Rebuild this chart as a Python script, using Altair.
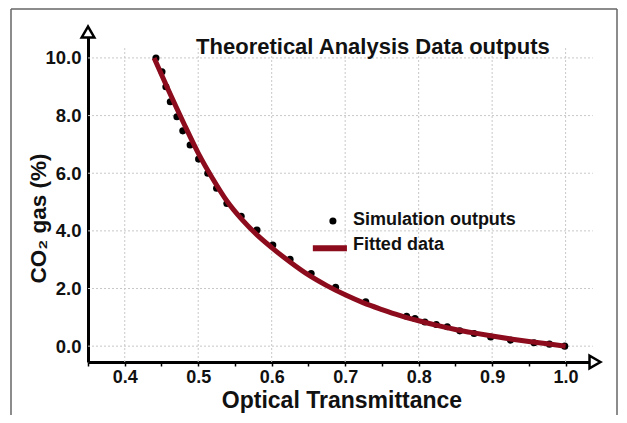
import altair as alt
import pandas as pd

# ---- data ----
sim_x = [0.4425, 0.4507, 0.456, 0.462, 0.471, 0.479, 0.489, 0.5005, 0.513, 0.525,
         0.539, 0.5585, 0.58, 0.6015, 0.625, 0.6537, 0.687, 0.728, 0.7836, 0.795,
         0.8085, 0.824, 0.839, 0.856, 0.8755, 0.898, 0.925, 0.957, 0.978, 0.9988]
sim_y = [10.0, 9.52, 9.0, 8.48, 7.96, 7.47, 6.98, 6.49, 6.0, 5.48,
         4.95, 4.51, 4.03, 3.51, 3.01, 2.52, 2.04, 1.54, 1.04, 0.96,
         0.84, 0.75, 0.67, 0.53, 0.44, 0.32, 0.21, 0.12, 0.07, 0.0]

fit_x = [0.44, 0.46, 0.48, 0.50, 0.52, 0.54, 0.56, 0.58, 0.60, 0.625, 0.65, 0.675,
         0.70, 0.725, 0.75, 0.775, 0.80, 0.825, 0.85, 0.875, 0.90, 0.925, 0.95, 0.975, 1.00]
fit_y = [10.0, 8.85, 7.75, 6.7, 5.8, 5.0, 4.38, 3.86, 3.42, 2.92, 2.47, 2.1,
         1.78, 1.5, 1.27, 1.06, 0.88, 0.72, 0.58, 0.46, 0.35, 0.25, 0.16, 0.08, 0.0]

x_ticks = [0.35, 0.40, 0.45, 0.50, 0.55, 0.60, 0.65, 0.70, 0.75, 0.80, 0.85, 0.90, 0.95, 1.00]
x_grid = [0.4, 0.5, 0.6, 0.7, 0.8, 0.9, 1.0]
y_ticks = [0, 2, 4, 6, 8, 10]

title_text = "Theoretical Analysis Data outputs"
x_title = "Optical Transmittance"
y_title = "CO\u2082 gas (%)"
legend_labels = ["Simulation outputs", "Fitted data"]

FONT = "Liberation Sans"
RED = "#8c0b1c"
INK = "#111111"

x_min, x_max = 0.35, 1.04
y_min, y_max = -0.55, 10.9

xs = alt.Scale(domain=[x_min, x_max], nice=False, zero=False)
ys = alt.Scale(domain=[y_min, y_max], nice=False, zero=False)

x_axis = alt.Axis(
    values=x_ticks,
    labelExpr="abs(datum.value*10 - round(datum.value*10)) < 0.01 ? format(datum.value, '.1f') : ''",
    labelFont=FONT, labelFontSize=18, labelFontWeight="bold", labelColor=INK,
    labelPadding=2, labelFlush=False, labelOverlap=False,
    domainColor="black", domainWidth=3, tickColor="black", tickSize=4, tickWidth=1.5,
    grid=False, title=x_title, titleFont=FONT, titleFontSize=23, titleFontWeight="bold",
    titleColor=INK, titlePadding=3,
)
y_axis = alt.Axis(
    values=y_ticks, format=".1f",
    labelFont=FONT, labelFontSize=18.5, labelFontWeight="bold", labelColor=INK,
    labelPadding=7, ticks=False, labelFlush=False, labelOverlap=False,
    domainColor="black", domainWidth=3, grid=False,
    title=y_title, titleFont=FONT, titleFontSize=22.5, titleFontWeight="bold",
    titleColor=INK, titleX=-50, titleY=186, titleAngle=270,
    titleAlign="center", titleBaseline="middle",
)

X = lambda f: alt.X(f, type="quantitative", scale=xs, axis=x_axis)
Y = lambda f: alt.Y(f, type="quantitative", scale=ys, axis=y_axis)

df_sim = pd.DataFrame({"x": sim_x, "y": sim_y})
df_fit = pd.DataFrame({"x": fit_x, "y": fit_y})
df_xg = pd.DataFrame({"x": x_grid, "y": [y_min] * len(x_grid), "y2": [10.34] * len(x_grid)})
df_yg = pd.DataFrame({"y": y_ticks, "x": [x_min] * len(y_ticks), "x2": [1.037] * len(y_ticks)})

grid_style = dict(color="#c8c8c8", strokeWidth=1, strokeDash=[2, 2])

xgrid = alt.Chart(df_xg).mark_rule(**grid_style).encode(x=X("x"), y=Y("y"), y2="y2")
ygrid = alt.Chart(df_yg).mark_rule(**grid_style).encode(y=Y("y"), x=X("x"), x2="x2")

points = alt.Chart(df_sim).mark_circle(color="black", opacity=1, size=50).encode(x=X("x"), y=Y("y"))
line = alt.Chart(df_fit).mark_line(color=RED, strokeWidth=5, interpolate="monotone").encode(x=X("x"), y=Y("y"))

# legend drawn inside the plot
df_leg_pt = pd.DataFrame({"x": [0.6833], "y": [4.34]})
df_leg_ln = pd.DataFrame({"x": [0.656], "x2": [0.7024], "y": [3.40]})
df_leg_tx = pd.DataFrame({"x": [0.7105, 0.7105], "y": [4.38, 3.51], "t": legend_labels})
leg_pt = alt.Chart(df_leg_pt).mark_circle(color="black", opacity=1, size=50).encode(x=X("x"), y=Y("y"))
leg_ln = alt.Chart(df_leg_ln).mark_rule(color=RED, strokeWidth=6).encode(x=X("x"), x2="x2", y=Y("y"))
leg_tx = alt.Chart(df_leg_tx).mark_text(
    font=FONT, fontSize=18, fontWeight="bold", color=INK, align="left", baseline="middle"
).encode(x=X("x"), y=Y("y"), text="t:N")

df_title = pd.DataFrame({"x": [0.7378], "y": [10.38], "t": [title_text]})
title = alt.Chart(df_title).mark_text(
    font=FONT, fontSize=22, fontWeight="bold", color=INK, align="center", baseline="middle"
).encode(x=X("x"), y=Y("y"), text="t:N")

# axis arrowheads
df_arr = pd.DataFrame({"x": [x_min, x_max], "y": [y_max, y_min], "s": ["triangle-up", "triangle-right"]})
arrows = alt.Chart(df_arr).mark_point(
    filled=False, fill="white", fillOpacity=1, stroke="black", strokeWidth=2.5, size=160, opacity=1
).encode(
    x=X("x"), y=Y("y"),
    shape=alt.Shape("s:N", scale=alt.Scale(domain=["triangle-up", "triangle-right"],
                                           range=["triangle-up", "triangle-right"]), legend=None),
)

# outer frame (top, left and right edges)
frame_style = dict(color="#666666", strokeWidth=1.5)
frame_top = alt.Chart().mark_rule(**frame_style).encode(x=alt.value(-77), x2=alt.value(529), y=alt.value(-23))
frame_left = alt.Chart().mark_rule(**frame_style).encode(x=alt.value(-77), y=alt.value(-23), y2=alt.value(400))
frame_right = alt.Chart().mark_rule(**frame_style).encode(x=alt.value(529), y=alt.value(-23), y2=alt.value(400))

chart = alt.layer(
    xgrid, ygrid, points, line, leg_pt, leg_ln, leg_tx, title, arrows,
    frame_top, frame_left, frame_right,
).properties(
    width=507, height=330,
    autosize=alt.AutoSizeParams(type="none"),
    padding={"left": 80, "top": 24, "right": 23, "bottom": 53},
    background="white",
).configure_view(stroke=None)

chart.save("out.html", embed_options={"renderer": "svg", "actions": False})
